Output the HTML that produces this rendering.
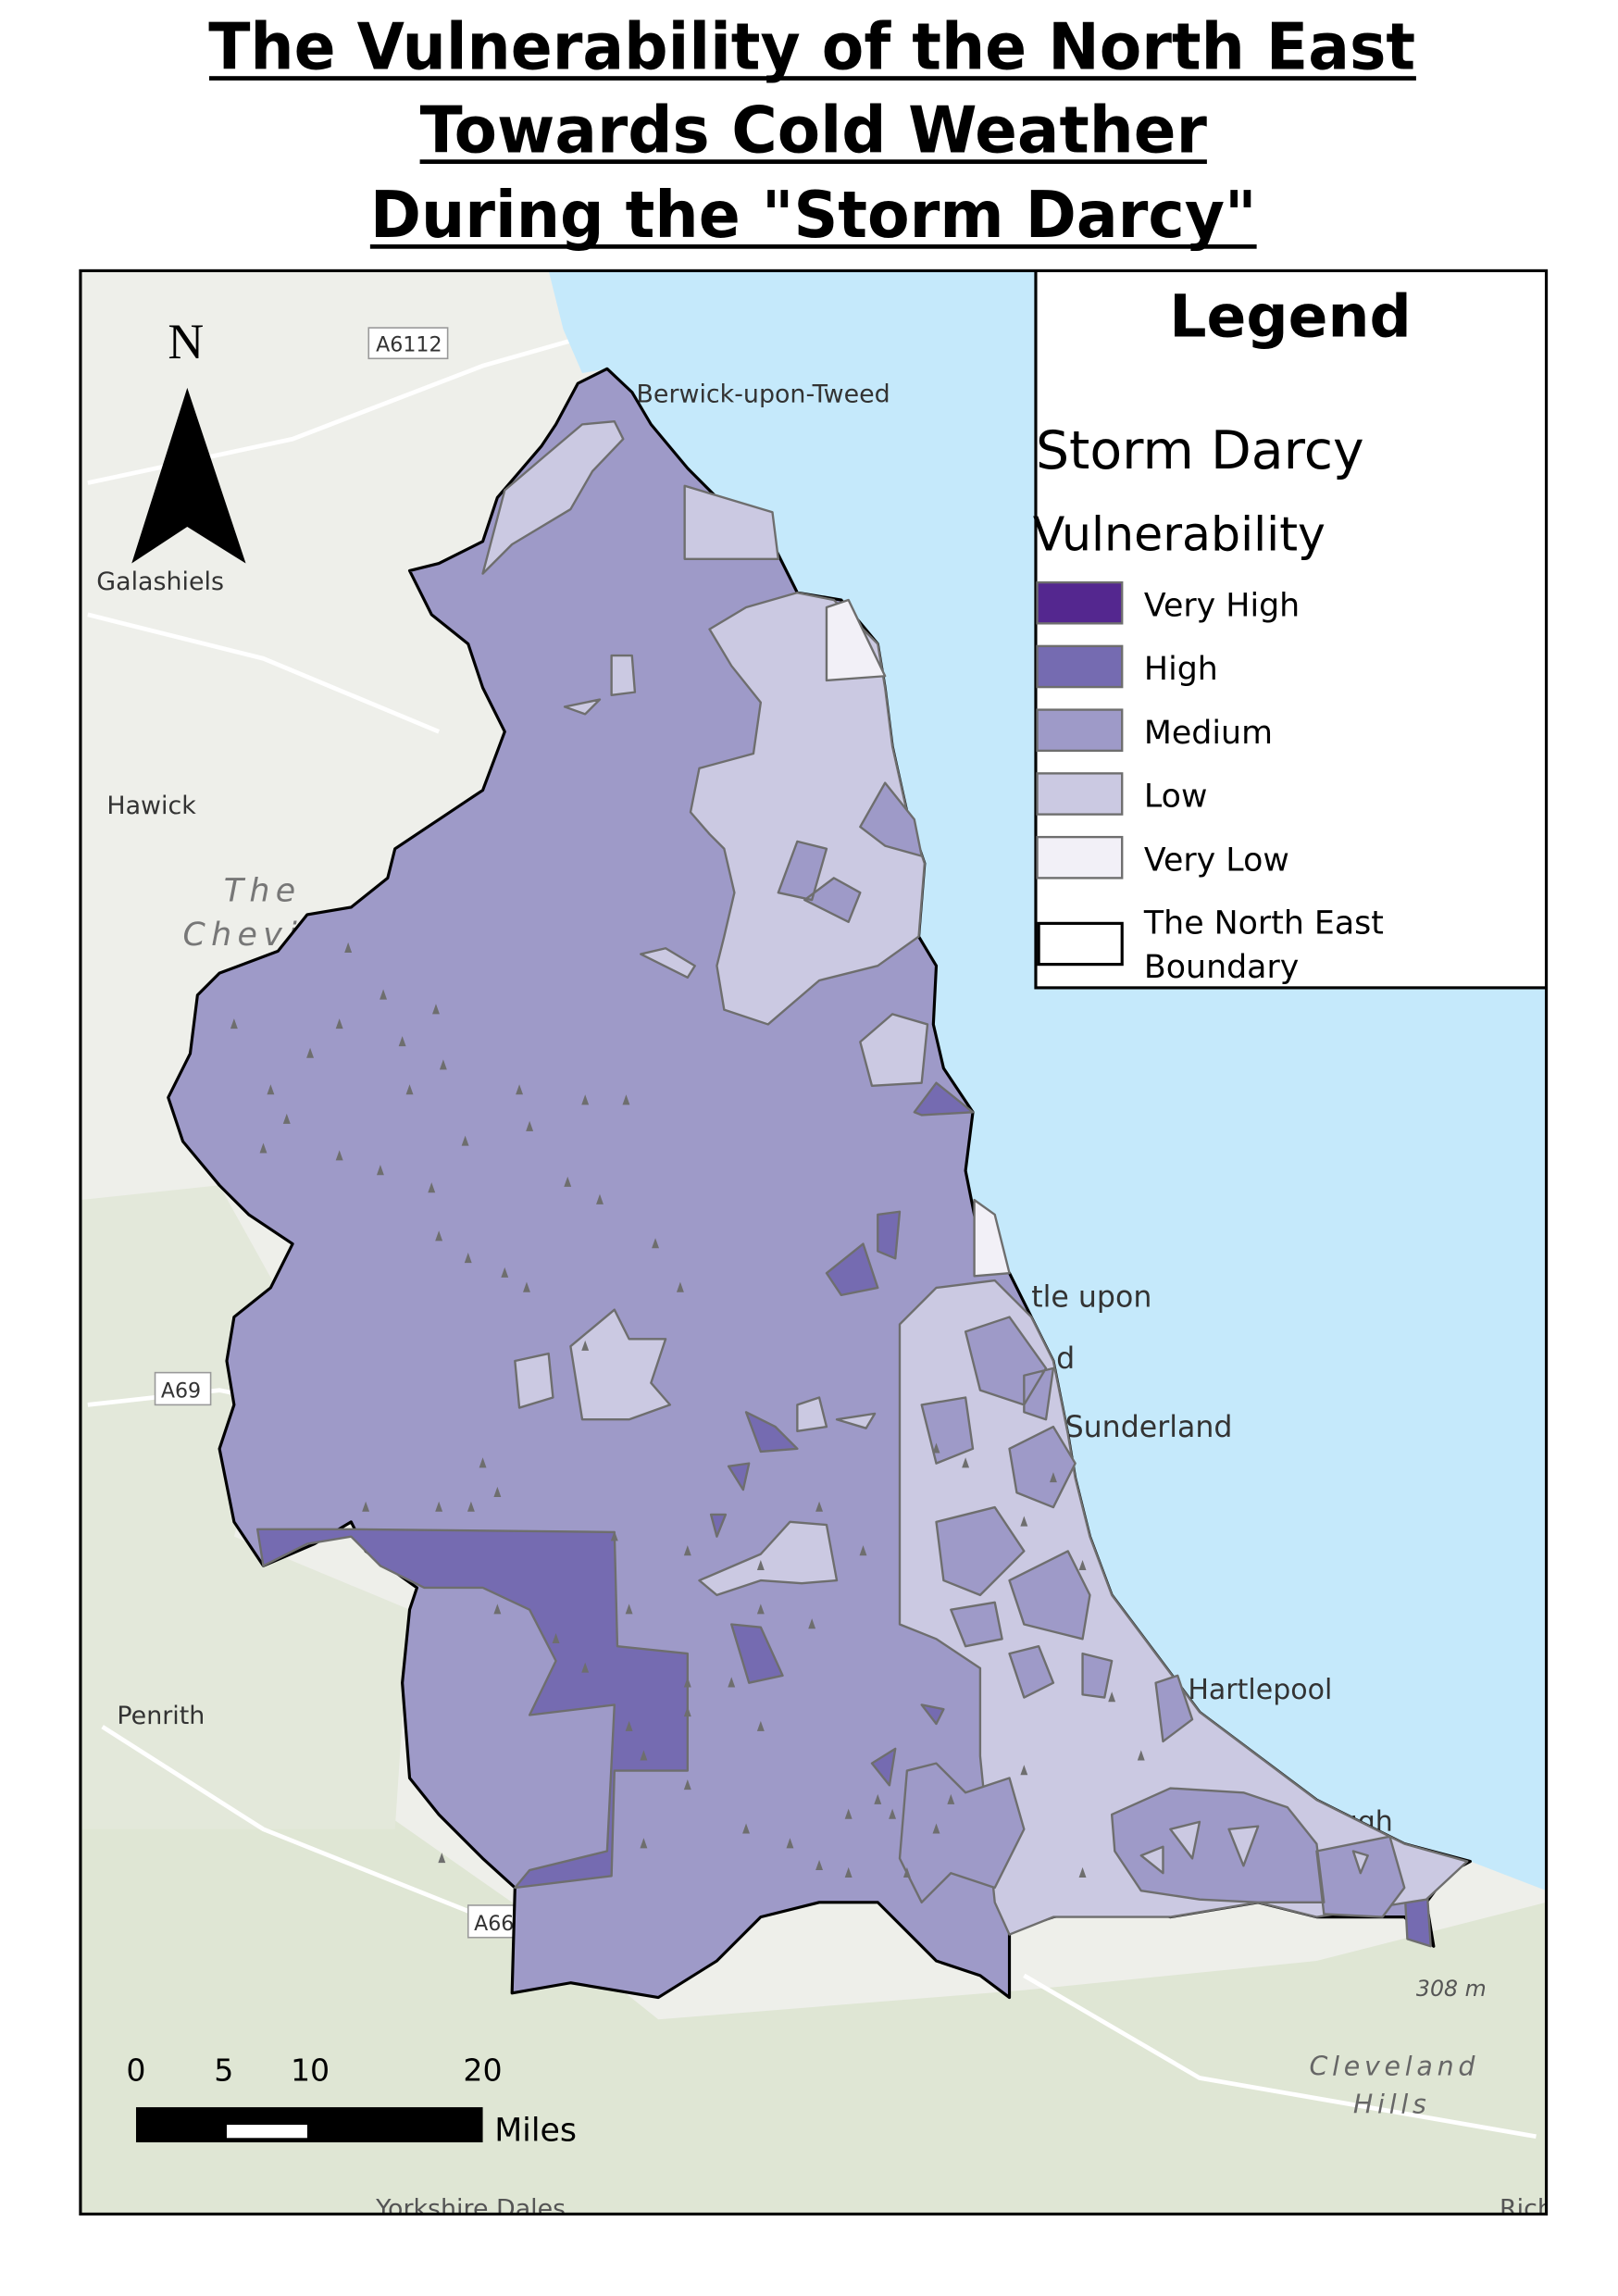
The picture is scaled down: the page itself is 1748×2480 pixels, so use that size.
<!DOCTYPE html>
<html><head><meta charset="utf-8">
<style>
html,body{margin:0;padding:0;background:#fff;}
svg{display:block;}
text{font-family:"DejaVu Sans","Liberation Sans",sans-serif;}
</style></head>
<body>
<svg id="map" width="1748" height="2480" viewBox="0 0 1106 1569" preserveAspectRatio="none" xmlns="http://www.w3.org/2000/svg">
<rect width="1106" height="1569" fill="#fff"/>
<g font-weight="bold" fill="#000" text-anchor="middle">
  <text x="555" y="47" font-size="44" textLength="825" lengthAdjust="spacingAndGlyphs">The Vulnerability of the North East</text>
  <rect x="143" y="52" width="825" height="3"/>
  <text x="556" y="104" font-size="44" textLength="538" lengthAdjust="spacingAndGlyphs">Towards Cold Weather</text>
  <rect x="287" y="109" width="538" height="3"/>
  <text x="556" y="162" font-size="44" textLength="606" lengthAdjust="spacingAndGlyphs">During the "Storm Darcy"</text>
  <rect x="253" y="167" width="606" height="3"/>
</g>
<defs><clipPath id="frame"><rect x="55" y="185" width="1002" height="1328"/></clipPath></defs>
<g clip-path="url(#frame)">
  <rect x="55" y="185" width="1002" height="1328" fill="#eeefea"/>
  <path d="M55 1250 L250 1230 L350 1300 L450 1380 L700 1360 L900 1340 L1057 1300 L1057 1513 L55 1513 Z" fill="#dfe6d4"/>
  <path d="M55 820 L150 810 L200 900 L160 1050 L280 1100 L270 1250 L55 1250 Z" fill="#e3e8da"/>
  <g stroke="#fff" stroke-width="3" fill="none">
    <path d="M60 330 L200 300 L330 250 L400 230"/>
    <path d="M60 420 L180 450 L300 500"/>
    <path d="M70 1180 L180 1250 L330 1310 L450 1330"/>
    <path d="M60 960 L150 950 L200 960"/>
    <path d="M700 1350 L820 1420 L1050 1460"/>
  </g>
  <path d="M375 185 L1057 185 L1057 1292 L1005 1272 L960 1260 L900 1230 L860 1200 L820 1170 L790 1130 L760 1090 L745 1050 L735 1010 L730 980 L720 930 L705 900 L690 870 L668 840 L660 800 L665 760 L645 730 L638 700 L640 660 L628 640 L632 590 L620 555 L610 510 L605 470 L600 440 L575 410 L545 405 L530 375 L495 345 L470 320 L445 290 L432 268 L415 252 L398 255 L385 225 Z" fill="#c5e9fb"/>
  <g font-size="17" fill="#333">
    <text x="435" y="275">Berwick-upon-Tweed</text>
    <text x="66" y="403">Galashiels</text>
    <text x="73" y="556">Hawick</text>
    <text x="80" y="1178">Penrith</text>
    <text x="705" y="893" font-size="20">tle upon</text>
    <text x="722" y="935" font-size="20">d</text>
    <text x="728" y="982" font-size="20">Sunderland</text>
    <text x="812" y="1161" font-size="19">Hartlepool</text>
    <text x="897" y="1251" font-size="19">rough</text>
    <text x="968" y="1364" font-style="italic" font-size="15" fill="#555">308 m</text>
    <text x="895" y="1418" font-style="italic" font-size="18" fill="#666" letter-spacing="3">Cleveland</text>
    <text x="925" y="1444" font-style="italic" font-size="18" fill="#666" letter-spacing="3">Hills</text>
    <text x="153" y="616" font-style="italic" font-size="22" fill="#777" letter-spacing="4">The</text>
    <text x="125" y="646" font-style="italic" font-size="22" fill="#777" letter-spacing="4">Chevi</text>
    <text x="257" y="1515" font-size="17" fill="#555">Yorkshire Dales</text>
    <text x="1025" y="1515" font-size="17" fill="#555">Rich</text>
  </g>
  <g font-size="14" fill="#333">
    <rect x="252" y="224" width="54" height="21" fill="#fff" stroke="#999"/><text x="257" y="240">A6112</text>
    <rect x="106" y="938" width="38" height="22" fill="#fff" stroke="#999"/><text x="110" y="955">A69</text>
    <rect x="320" y="1302" width="36" height="22" fill="#fff" stroke="#999"/><text x="324" y="1319">A66</text>
  </g>
  <g stroke="#6e6e6e" stroke-width="1.5" stroke-linejoin="round">
    <path fill="#9e9ac8" stroke="#000" stroke-width="2" d="M395 262 L415 252 L432 268 L445 290 L470 320 L495 345 L530 375 L545 405 L575 410 L600 440 L605 470 L610 510 L620 555 L632 590 L628 640 L640 660 L638 700 L645 730 L665 760 L660 800 L668 840 L690 870 L705 900 L720 930 L730 980 L735 1010 L745 1050 L760 1090 L790 1130 L820 1170 L860 1200 L900 1230 L960 1260 L1005 1272 L990 1280 L975 1300 L980 1330 L960 1310 L900 1310 L860 1300 L800 1310 L770 1300 L720 1310 L690 1320 L690 1365 L670 1350 L640 1340 L620 1320 L600 1300 L560 1300 L520 1310 L490 1340 L450 1365 L390 1355 L350 1362 L352 1290 L330 1270 L300 1240 L280 1215 L275 1150 L280 1100 L285 1085 L250 1060 L240 1040 L215 1055 L180 1070 L160 1040 L150 990 L160 960 L155 930 L160 900 L185 880 L200 850 L170 830 L150 810 L125 780 L115 750 L130 720 L135 680 L150 665 L190 650 L210 625 L240 620 L265 600 L270 580 L300 560 L330 540 L345 500 L330 470 L320 440 L295 420 L280 390 L300 385 L330 370 L340 340 L370 305 L380 290 Z"/>
    <path fill="#cbc9e2" d="M330 392 L350 372 L390 348 L405 322 L426 300 L420 288 L398 290 L372 312 L345 335 Z"/>
    <path fill="#cbc9e2" d="M468 332 L528 350 L532 382 L468 382 Z"/>
    <path fill="#cbc9e2" d="M485 430 L510 415 L545 405 L570 410 L600 440 L605 470 L610 510 L620 555 L632 590 L628 640 L600 660 L560 670 L525 700 L495 690 L490 660 L495 640 L502 610 L495 580 L485 570 L472 555 L478 525 L515 515 L520 480 L500 455 Z"/>
    <path fill="#f2f0f7" d="M565 415 L580 410 L605 462 L565 465 Z"/>
    <path fill="#9e9ac8" d="M588 565 L605 535 L625 560 L630 585 L605 578 Z M532 610 L545 575 L565 580 L555 615 Z M550 615 L570 600 L588 610 L580 630 Z"/>
    <path fill="#cbc9e2" d="M418 448 L432 448 L434 473 L418 475 Z M386 483 L410 478 L400 488 Z M438 652 L455 648 L475 660 L470 668 Z M588 712 L610 693 L634 700 L630 740 L596 742 Z M352 930 L375 925 L378 955 L355 962 Z M390 920 L420 895 L430 915 L455 915 L445 945 L458 960 L430 970 L398 970 Z M478 1080 L520 1062 L540 1040 L565 1042 L572 1080 L548 1082 L520 1080 L490 1090 Z M545 960 L560 955 L565 975 L545 978 Z M572 970 L598 966 L592 976 Z"/>
    <path fill="#f2f0f7" d="M666 820 L680 830 L690 870 L666 872 Z"/>
    <path fill="#756bb1" d="M176 1045 L240 1045 L420 1047 L422 1125 L470 1130 L470 1210 L420 1210 L418 1282 L352 1290 L362 1278 L415 1265 L420 1165 L362 1172 L380 1135 L362 1100 L330 1085 L290 1085 L260 1070 L240 1050 L210 1055 L180 1070 Z"/>
    <path fill="#756bb1" d="M625 760 L640 740 L665 760 L630 762 Z M565 870 L590 850 L600 880 L575 885 Z M600 830 L615 828 L612 860 L600 855 Z M510 965 L530 975 L545 990 L520 992 Z M498 1002 L512 1000 L508 1018 Z M486 1035 L496 1035 L490 1050 Z M500 1110 L520 1112 L535 1145 L512 1150 Z M630 1165 L645 1168 L640 1178 Z M596 1205 L612 1195 L608 1220 Z M960 1288 L975 1285 L978 1330 L962 1325 Z"/>
    <path fill="#cbc9e2" d="M615 905 L640 880 L680 875 L705 900 L720 930 L730 980 L735 1010 L745 1050 L760 1090 L790 1130 L820 1170 L860 1200 L900 1230 L960 1260 L1003 1272 L975 1298 L900 1310 L860 1300 L800 1310 L720 1310 L690 1322 L680 1300 L670 1200 L670 1140 L640 1120 L615 1110 Z"/>
    <path fill="#9e9ac8" d="M660 910 L690 900 L715 935 L700 960 L670 950 Z M630 960 L660 955 L665 990 L640 1000 Z M690 990 L720 975 L735 1000 L720 1030 L695 1020 Z M640 1040 L680 1030 L700 1060 L670 1090 L645 1080 Z M690 1080 L730 1060 L745 1090 L740 1120 L700 1110 Z M620 1210 L640 1205 L660 1225 L690 1215 L700 1250 L680 1290 L650 1280 L630 1300 L615 1270 Z M760 1240 L800 1222 L850 1225 L880 1235 L900 1260 L905 1300 L860 1300 L820 1298 L780 1292 L762 1265 Z M900 1265 L950 1255 L960 1290 L945 1310 L905 1308 Z M790 1150 L805 1145 L815 1175 L795 1190 Z M740 1130 L760 1135 L755 1160 L740 1158 Z M690 1130 L710 1125 L720 1150 L700 1160 Z M700 940 L720 935 L715 970 L700 965 Z M650 1100 L680 1095 L685 1120 L660 1125 Z"/>
    <path fill="#cbc9e2" d="M800 1250 L820 1245 L815 1270 Z M840 1250 L860 1248 L850 1275 Z M925 1265 L935 1268 L930 1280 Z M780 1268 L795 1262 L795 1280 Z"/>
  </g>
  <g fill="#6e6e6e" id="tri"></g>
  <g>
    <text x="127" y="245" font-size="34" text-anchor="middle" style="font-family:'Liberation Serif',serif">N</text>
    <path d="M128 265 L90 385 L128 360 L168 385 Z" fill="#000"/>
  </g>
  <g>
    <g font-size="21" fill="#000" text-anchor="middle">
      <text x="93" y="1422">0</text><text x="153" y="1422">5</text><text x="212" y="1422">10</text><text x="330" y="1422">20</text>
    </g>
    <rect x="93" y="1440" width="237" height="24" fill="#000"/>
    <rect x="155" y="1452" width="55" height="9" fill="#fff"/>
    <text x="338" y="1463" font-size="22" fill="#000">Miles</text>
  </g>
  <g>
    <rect x="708" y="185" width="349" height="490" fill="#fff" stroke="#000" stroke-width="2"/>
    <text x="882" y="230" font-size="40" font-weight="bold" text-anchor="middle">Legend</text>
    <text x="708" y="320" font-size="36">Storm Darcy</text>
    <text x="706" y="376" font-size="32">Vulnerability</text>
    <g id="legend-items"></g>
    <rect x="710" y="631" width="57" height="28" fill="#fff" stroke="#000" stroke-width="2"/>
    <text x="782" y="638" font-size="22">The North East</text>
    <text x="782" y="668" font-size="22">Boundary</text>
  </g>
</g>
<rect x="55" y="185" width="1002" height="1328" fill="none" stroke="#000" stroke-width="2"/>
<script>
const legendLabels = ["Very High","High","Medium","Low","Very Low"];
const legendColors = ["#54278f","#756bb1","#9e9ac8","#cbc9e2","#f2f0f7"];
const NS = "http://www.w3.org/2000/svg";
const li = document.getElementById('legend-items');
legendLabels.forEach((lab,i)=>{
  const y = 398 + i*43.5;
  const r = document.createElementNS(NS,'rect');
  
  
  r.setAttribute('x',709); r.setAttribute('y',y); r.setAttribute('width',58); r.setAttribute('height',28);
  r.setAttribute('fill',legendColors[i]); r.setAttribute('stroke','#6e6e6e'); r.setAttribute('stroke-width','1.5');
  li.appendChild(r);
  const t = document.createElementNS(NS,'text');
  
  
  t.setAttribute('x',782); t.setAttribute('y',y+23); t.setAttribute('font-size','22');
  t.textContent = lab;
  li.appendChild(t);
});
const enclaveX = [238,262,298,232,275,303,355,400,428,362,318,295,280,212,196,185,160,180,232,260,300,320,345,388,410,448,465,400,360,330,300,250,322,340,420,470,520,560,590,555,500,470,440,520,580,610,640,620,440,470,510,540,560,580,600,430,400,380,340,302,470,520,430,640,660,700,720,740,760,780,650,700,740];
const enclaveY = [648,680,690,700,712,728,745,752,752,770,780,812,745,720,765,745,700,785,790,800,845,860,870,808,820,850,880,920,880,1000,1030,1030,1030,1020,1050,1060,1070,1030,1060,1110,1150,1170,1200,1180,1240,1240,1250,1280,1260,1220,1250,1260,1275,1280,1230,1180,1140,1120,1100,1270,1150,1100,1100,990,1000,1040,1010,1070,1160,1200,1230,1210,1280];
const tri = document.getElementById('tri');
enclaveX.forEach((x,i)=>{
  const y = enclaveY[i];
  const p = document.createElementNS(NS,'path');
  
  
  p.setAttribute('d',`M${x} ${y-4} L${x-2.5} ${y+3} L${x+2.5} ${y+3} Z`);
  tri.appendChild(p);
});
</script>
</svg>
</body></html>
